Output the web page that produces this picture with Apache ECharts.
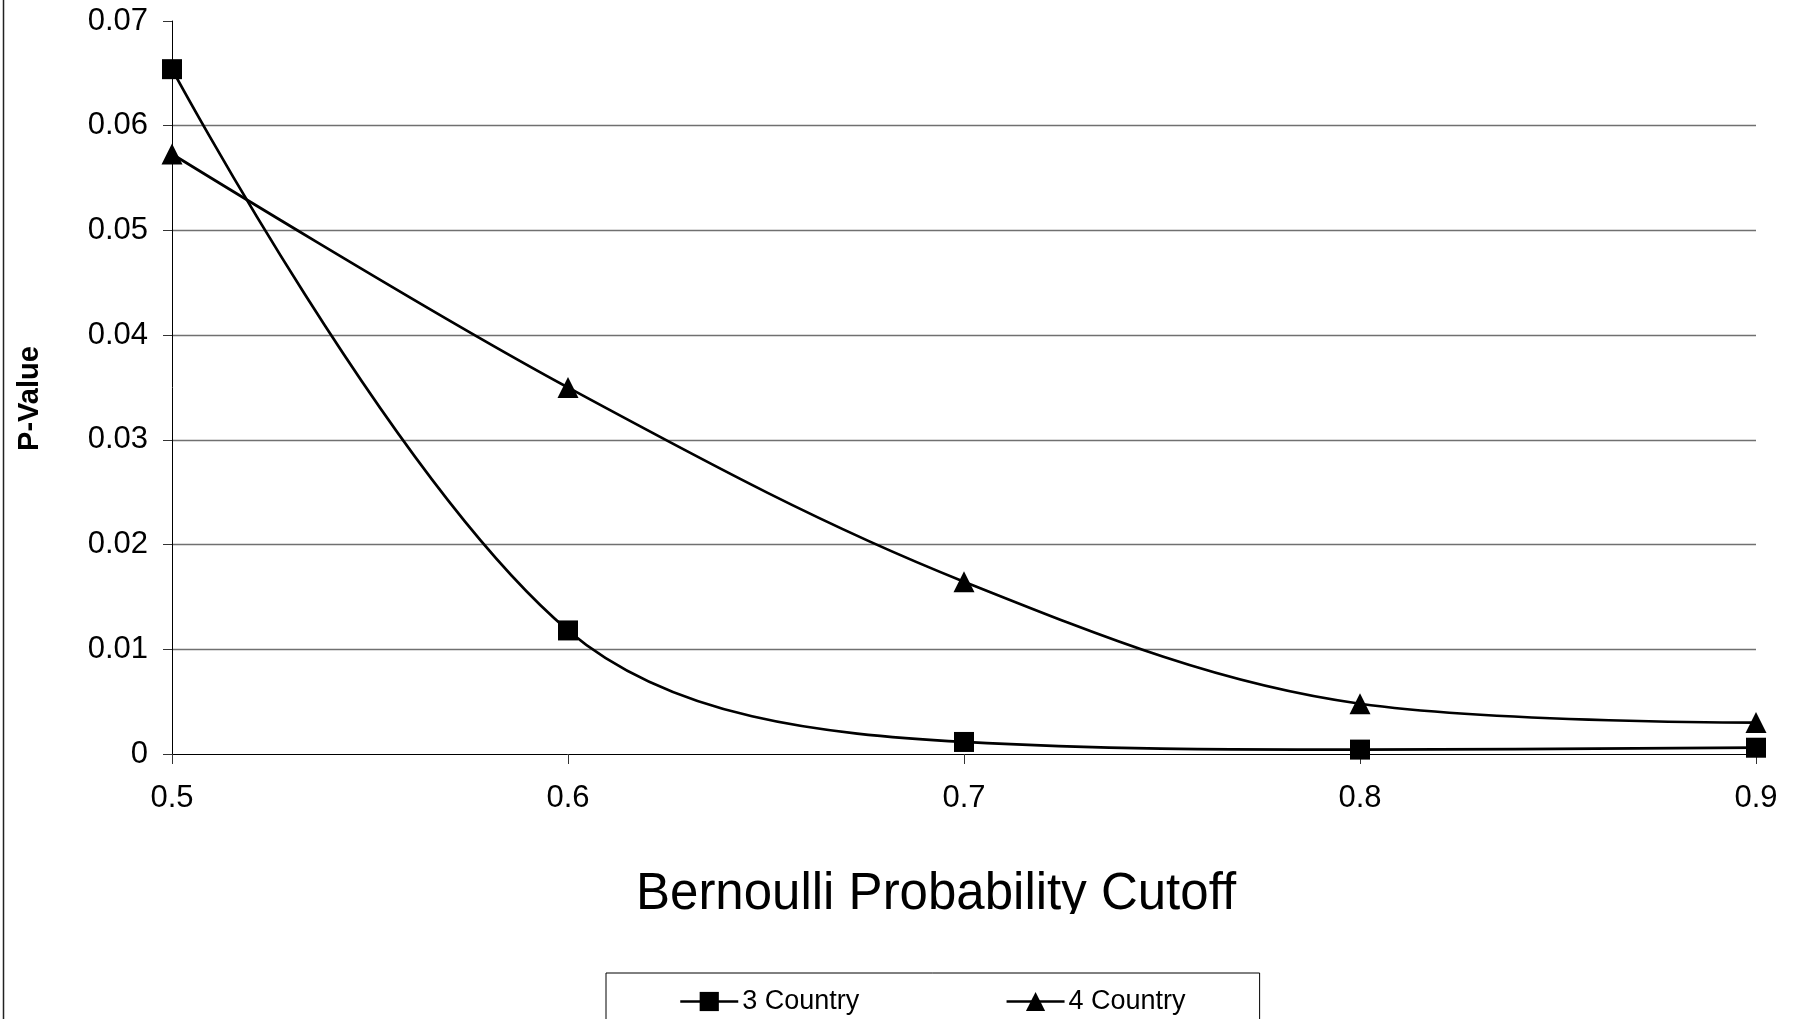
<!DOCTYPE html>
<html>
<head>
<meta charset="utf-8">
<script src="https://cdn.jsdelivr.net/npm/echarts@6/dist/echarts.min.js"></script>
<style>
html,body{margin:0;padding:0;background:#fff;}
#chart{width:1801px;height:1019px;}
</style>
</head>
<body>
<div id="chart"></div>
<script>
const categories = ['0.5', '0.6', '0.7', '0.8', '0.9'];
const country3 = [0.0654, 0.0118, 0.00115, 0.00042, 0.0006];
const country4 = [0.0573, 0.0350, 0.01646, 0.0048, 0.0030];
const yTicks = { min: 0, max: 0.07, interval: 0.01 };
const seriesNames = ['3 Country', '4 Country'];
const xTitle = 'Bernoulli Probability Cutoff';
const yTitle = 'P-Value';

const FONT = '"Liberation Sans", Arial, sans-serif';
const chart = echarts.init(document.getElementById('chart'), null, { renderer: 'canvas' });

chart.setOption({
  animation: false,
  backgroundColor: '#ffffff',
  title: {
    text: xTitle,
    left: 636,
    top: 869,
    padding: 0,
    textStyle: { fontFamily: FONT, fontSize: 51, fontWeight: 'normal', color: '#000' }
  },
  legend: {
    data: seriesNames,
    left: 606,
    top: 973,
    padding: [15, 74, 40, 73],
    itemGap: 146,
    itemWidth: 58,
    itemHeight: 24,
    borderColor: '#000',
    borderWidth: 1,
    lineStyle: { width: 2.5, color: '#000' },
    textStyle: { fontFamily: FONT, fontSize: 27, color: '#000', padding: [0, 0, 0, -1] }
  },
  grid: { left: 172, top: 21, width: 1584, height: 733, containLabel: false, outerBoundsMode: 'none' },
  xAxis: {
    type: 'category',
    data: categories,
    boundaryGap: false,
    axisLine: { lineStyle: { color: '#000', width: 1 } },
    axisTick: { show: true, length: 10, lineStyle: { color: '#333' } },
    axisLabel: { fontFamily: FONT, fontSize: 31, color: '#000', margin: 29 },
    splitLine: { show: false }
  },
  yAxis: {
    type: 'value',
    min: yTicks.min,
    max: yTicks.max,
    interval: yTicks.interval,
    name: yTitle,
    nameLocation: 'middle',
    nameGap: 128,
    nameRotate: 90,
    nameMoveOverlap: false,
    nameTextStyle: { fontFamily: FONT, fontSize: 29, fontWeight: 'bold', color: '#000', padding: [0, 22, 0, 0] },
    axisLine: { show: true, lineStyle: { color: '#000', width: 1 } },
    axisTick: { show: true, length: 9, lineStyle: { color: '#333' } },
    axisLabel: {
      fontFamily: FONT, fontSize: 31, color: '#000', margin: 24,
      formatter: v => (v === 0 ? '0' : v.toFixed(2))
    },
    splitLine: { show: true, showMaxLine: false, showMinLine: false, lineStyle: { color: '#707070', width: 1.3 } }
  },
  graphic: [
    {
      type: 'rect',
      shape: { x: 600, y: 914, width: 680, height: 50 },
      style: { fill: '#fff' },
      z: 100
    },
    {
      type: 'line',
      shape: { x1: 3.5, y1: 0, x2: 3.5, y2: 1019 },
      style: { stroke: '#222', lineWidth: 1.5 },
      z: 100
    }
  ],
  series: [
    {
      name: seriesNames[0],
      type: 'line',
      data: country3,
      smooth: 0.35,
      symbol: 'rect',
      symbolSize: 20,
      lineStyle: { color: '#000', width: 2.7 },
      itemStyle: { color: '#000' },
      z: 3
    },
    {
      name: seriesNames[1],
      type: 'line',
      data: country4,
      smooth: 0.35,
      symbol: 'triangle',
      symbolSize: 21,
      lineStyle: { color: '#000', width: 2.7 },
      itemStyle: { color: '#000' },
      z: 3
    }
  ]
});
</script>
</body>
</html>
